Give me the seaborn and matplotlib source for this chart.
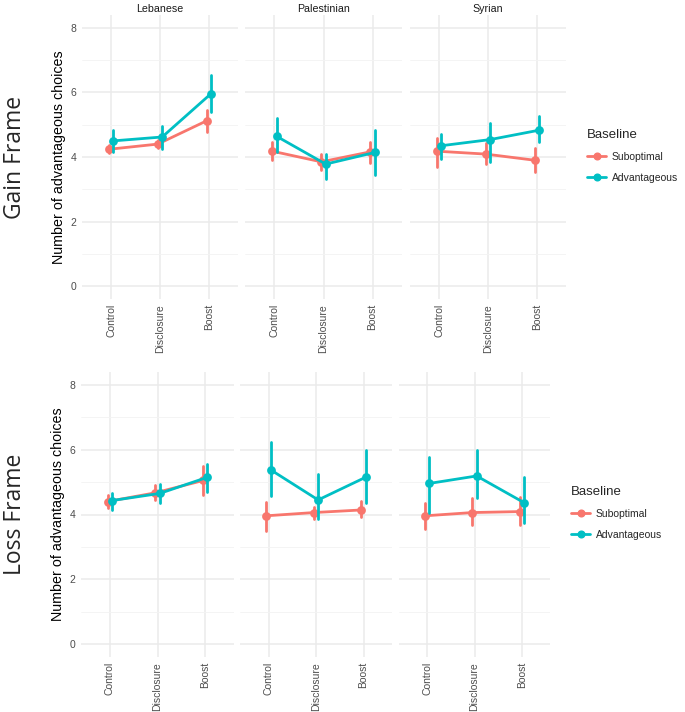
import matplotlib
matplotlib.use("Agg")
import matplotlib.pyplot as plt
from matplotlib.lines import Line2D
import pandas as pd
import seaborn as sns

# ---------------------------
# data
# ---------------------------

treatments = ["Control", "Disclosure", "Boost"]
nationalities = ["Lebanese", "Palestinian", "Syrian"]
baselines = ["Suboptimal", "Advantageous"]
frames = ["Gain Frame", "Loss Frame"]

# order: Lebanese C/D/B, Palestinian C/D/B, Syrian C/D/B
gain_sub_mean = [4.24, 4.40, 5.12, 4.18, 3.85, 4.16, 4.18, 4.09, 3.90]
gain_sub_lo = [4.11, 4.27, 4.78, 3.92, 3.59, 3.82, 3.69, 3.78, 3.53]
gain_sub_hi = [4.37, 4.53, 5.47, 4.47, 4.09, 4.47, 4.60, 4.42, 4.29]

gain_adv_mean = [4.50, 4.62, 5.96, 4.64, 3.78, 4.14, 4.35, 4.54, 4.83]
gain_adv_lo = [4.16, 4.26, 5.40, 4.16, 3.31, 3.44, 3.94, 3.85, 4.47]
gain_adv_hi = [4.83, 4.95, 6.53, 5.22, 4.08, 4.85, 4.70, 5.06, 5.26]

loss_sub_mean = [4.40, 4.67, 5.05, 3.96, 4.06, 4.14, 3.96, 4.06, 4.09]
loss_sub_lo = [4.19, 4.45, 4.60, 3.50, 3.85, 3.91, 3.54, 3.67, 3.67]
loss_sub_hi = [4.60, 4.91, 5.50, 4.38, 4.24, 4.42, 4.37, 4.50, 4.53]

loss_adv_mean = [4.43, 4.65, 5.15, 5.38, 4.45, 5.15, 4.96, 5.19, 4.37]
loss_adv_lo = [4.14, 4.37, 4.71, 4.57, 3.85, 4.37, 4.06, 4.52, 3.73]
loss_adv_hi = [4.67, 4.94, 5.56, 6.25, 5.25, 6.00, 5.79, 6.00, 5.17]

colors = ["#F8766D", "#00BFC4"]

series = {
    ("Gain Frame", "Suboptimal"): (gain_sub_lo, gain_sub_mean, gain_sub_hi),
    ("Gain Frame", "Advantageous"): (gain_adv_lo, gain_adv_mean, gain_adv_hi),
    ("Loss Frame", "Suboptimal"): (loss_sub_lo, loss_sub_mean, loss_sub_hi),
    ("Loss Frame", "Advantageous"): (loss_adv_lo, loss_adv_mean, loss_adv_hi),
}

# long table: lo / mean / hi per cell -> median = mean, min-max = interval
rows = []
for (frame, base), arrs in series.items():
    for i, nat in enumerate(nationalities):
        for j, tr in enumerate(treatments):
            for arr in arrs:
                rows.append([frame, nat, tr, base, arr[i * 3 + j]])
df = pd.DataFrame(rows, columns=["Frame", "Nationality", "Treatment", "Baseline", "value"])

# ---------------------------
# style
# ---------------------------

sns.set_style("white")
plt.rcParams["font.family"] = ["Liberation Sans", "DejaVu Sans"]

fig = plt.figure(figsize=(6.85, 7.12), dpi=100)
W, H = 685, 712

# panel boxes in pixels: (left, right) per facet, (top, bottom) per row
row_boxes = {
    "Gain Frame": ([(82, 238), (245, 402), (410, 566)], (15, 299)),
    "Loss Frame": ([(81, 234), (240, 392), (399, 550)], (372, 657)),
}
legend_pos = {"Gain Frame": (578, 156), "Loss Frame": (562, 513)}

for frame in frames:
    xs, (top, bot) = row_boxes[frame]
    for k, nat in enumerate(nationalities):
        l, r = xs[k]
        ax = fig.add_axes([l / W, 1 - bot / H, (r - l) / W, (bot - top) / H])
        sub = df[(df["Frame"] == frame) & (df["Nationality"] == nat)]

        sns.pointplot(
            data=sub, x="Treatment", y="value", hue="Baseline",
            order=treatments, hue_order=baselines, palette=colors,
            estimator="median", errorbar=("pi", 100),
            dodge=0.09, markers="o", markersize=4.8, linewidth=2.0,
            err_kws={"linewidth": 2.0}, legend=False, ax=ax,
        )

        ax.set_xlim(-0.6, 2.6)
        ax.set_ylim(-0.4, 8.4)
        ax.set_yticks([0, 2, 4, 6, 8])
        ax.set_yticks([1, 3, 5, 7], minor=True)
        ax.grid(True, which="major", color="#ebebeb", linewidth=1.1)
        ax.grid(True, which="minor", axis="y", color="#f3f3f3", linewidth=0.6)
        ax.set_axisbelow(True)
        for s in ax.spines.values():
            s.set_visible(False)
        ax.tick_params(axis="both", which="both", length=0, colors="#4d4d4d", labelsize=7.5)
        ax.tick_params(axis="y", pad=4)
        plt.setp(ax.get_xticklabels(), rotation=90)
        ax.set_xlabel("")

        if k == 0:
            ax.set_ylabel("Number of advantageous choices", fontsize=10.3, color="black", labelpad=3)
        else:
            ax.set_ylabel("")
            ax.set_yticklabels([])

        if frame == "Gain Frame":
            ax.set_title(nat, fontsize=7.7, color="#1a1a1a", pad=2)

    # big row label
    fig.text(15 / W, 1 - ((top + bot) / 2) / H, frame, rotation=90,
             ha="center", va="center", fontsize=16.5, family=["Open Sans", "DejaVu Sans"])

    # legend
    handles = [Line2D([], [], color=c, marker="o", markersize=4.8, linewidth=2.0) for c in colors]
    lx, ly = legend_pos[frame]
    fig.legend(handles, baselines, title="Baseline", loc="center left",
               bbox_to_anchor=(lx / W, 1 - ly / H), frameon=False,
               fontsize=7.5, title_fontsize=9.5, handlelength=1.8, handletextpad=0.55,
               alignment="left", labelspacing=1.05)

fig.savefig("out.png", dpi=100)
